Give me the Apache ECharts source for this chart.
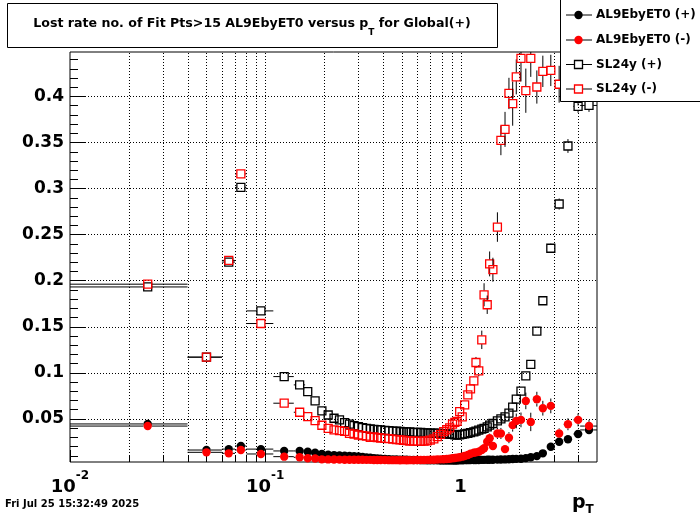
<!DOCTYPE html>
<html>
<head>
<meta charset="utf-8">
<script src="https://cdn.jsdelivr.net/npm/echarts@6/dist/echarts.min.js"></script>
<style>
html,body{margin:0;padding:0;background:#fff;}
#chart{width:700px;height:514px;}
</style>
</head>
<body>
<div id="chart"></div>
<script>
// ---------------- data ----------------
const binCenters = [
  0.025, 0.05, 0.065, 0.075, 0.095, 0.125, 0.15,
  0.165, 0.18, 0.195, 0.21, 0.225, 0.24, 0.255, 0.27, 0.285, 0.30,
  0.315, 0.33, 0.345, 0.36, 0.375, 0.39, 0.41, 0.43, 0.45, 0.47, 0.49, 0.51, 0.53, 0.55,
  0.575, 0.6, 0.625, 0.65, 0.675, 0.7, 0.73, 0.76, 0.79, 0.82, 0.85, 0.88, 0.91, 0.935,
  0.96, 0.99, 1.02, 1.05, 1.09, 1.125, 1.17, 1.2, 1.24, 1.285, 1.32, 1.37, 1.41, 1.465, 1.545,
  1.61, 1.69, 1.77, 1.85, 1.93, 2.04, 2.16, 2.29, 2.46, 2.64, 2.9, 3.2, 3.55, 4.0, 4.55
];
const binHalfWidths = [
  0.015, 0.01, 0.005, 0.005, 0.015, 0.015, 0.01,
  0.0075, 0.0075, 0.0075, 0.0075, 0.0075, 0.0075, 0.0075, 0.0075, 0.0075, 0.0075,
  0.0075, 0.0075, 0.0075, 0.0075, 0.0075, 0.0075, 0.01, 0.01, 0.01, 0.01, 0.01, 0.01, 0.01, 0.01,
  0.0125, 0.0125, 0.0125, 0.0125, 0.0125, 0.0125, 0.015, 0.015, 0.015, 0.015, 0.015, 0.015, 0.015, 0.0125,
  0.015, 0.015, 0.015, 0.02, 0.02, 0.02, 0.02, 0.02, 0.02, 0.02, 0.025, 0.025, 0.025, 0.03, 0.03,
  0.035, 0.04, 0.04, 0.04, 0.05, 0.055, 0.06, 0.07, 0.085, 0.1, 0.13, 0.15, 0.18, 0.22, 0.45
];

// AL9EbyET0 (+)  black filled circles
const al9PlusY = [
  0.0443, 0.016, 0.017, 0.0204, 0.017, 0.015, 0.015,
  0.0142, 0.013, 0.0117, 0.011, 0.0105, 0.0101, 0.0098, 0.0095, 0.0093, 0.009,
  0.0085, 0.008, 0.0076, 0.0072, 0.0069, 0.0066, 0.0063, 0.0061, 0.0059, 0.0058, 0.0056, 0.0055, 0.0054, 0.0053,
  0.0052, 0.0051, 0.005, 0.005, 0.0049, 0.0049, 0.0048, 0.0048, 0.0047, 0.0047, 0.0046, 0.0046, 0.0046, 0.0045,
  0.0047, 0.0048, 0.0049, 0.005, 0.005, 0.0051, 0.0051, 0.0052, 0.0052, 0.0053, 0.0053, 0.0054, 0.0054, 0.0055, 0.0056,
  0.0057, 0.0058, 0.006, 0.0062, 0.0064, 0.0066, 0.0072, 0.0082, 0.0094, 0.0124, 0.0195, 0.025, 0.0277, 0.0334, 0.0378
];
const al9PlusErr = [
  0.002, 0.001, 0.001, 0.001, 0.001, 0.0008, 0.0008,
  0.0005, 0.0005, 0.0005, 0.0005, 0.0005, 0.0005, 0.0005, 0.0005, 0.0005, 0.0005,
  0.0005, 0.0005, 0.0005, 0.0005, 0.0005, 0.0005, 0.0005, 0.0005, 0.0005, 0.0005, 0.0005, 0.0005, 0.0005, 0.0005,
  0.0005, 0.0005, 0.0005, 0.0005, 0.0005, 0.0005, 0.0005, 0.0005, 0.0005, 0.0005, 0.0005, 0.0005, 0.0005, 0.0005,
  0.0005, 0.0005, 0.0005, 0.0005, 0.0005, 0.0005, 0.0005, 0.0005, 0.0005, 0.0005, 0.0005, 0.0005, 0.0005, 0.0005, 0.0006,
  0.0006, 0.0006, 0.0007, 0.0007, 0.0008, 0.0008, 0.001, 0.001, 0.0012, 0.0015, 0.002, 0.0025, 0.003, 0.003, 0.0035
];

// AL9EbyET0 (-)  red filled circles
const al9MinusY = [
  0.042, 0.0135, 0.0124, 0.016, 0.0117, 0.0088, 0.0081,
  0.007, 0.0068, 0.0059, 0.0058, 0.0057, 0.0056, 0.0055, 0.0055, 0.0054, 0.0054,
  0.0054, 0.0053, 0.0053, 0.0052, 0.0052, 0.0051, 0.0051, 0.005, 0.005, 0.005, 0.0049, 0.005, 0.0049, 0.005,
  0.005, 0.0051, 0.0051, 0.0052, 0.0053, 0.0054, 0.0055, 0.0057, 0.0059, 0.006, 0.0063, 0.0066, 0.007, 0.0074,
  0.0078, 0.0082, 0.0088, 0.0095, 0.0106, 0.012, 0.013, 0.0135, 0.0142, 0.016, 0.018, 0.025, 0.0288, 0.0204, 0.034,
  0.034, 0.017, 0.0294, 0.043, 0.0476, 0.0487, 0.0693, 0.0465, 0.0712, 0.0614, 0.0639, 0.034, 0.044, 0.0487, 0.042
];
const al9MinusErr = [
  0.002, 0.001, 0.001, 0.001, 0.001, 0.0008, 0.0008,
  0.0005, 0.0005, 0.0005, 0.0005, 0.0005, 0.0005, 0.0005, 0.0005, 0.0005, 0.0005,
  0.0005, 0.0005, 0.0005, 0.0005, 0.0005, 0.0005, 0.0005, 0.0005, 0.0005, 0.0005, 0.0005, 0.0005, 0.0005, 0.0005,
  0.0005, 0.0005, 0.0005, 0.0005, 0.0005, 0.0005, 0.0005, 0.0005, 0.0005, 0.0006, 0.0006, 0.0007, 0.0008, 0.0008,
  0.001, 0.001, 0.0012, 0.0013, 0.0015, 0.0017, 0.002, 0.002, 0.0022, 0.0025, 0.003, 0.004, 0.005, 0.004, 0.006,
  0.006, 0.004, 0.006, 0.007, 0.008, 0.008, 0.009, 0.01, 0.008, 0.008, 0.008, 0.0055, 0.0065, 0.007, 0.0065
];

// SL24y (+)  black open squares
const sl24PlusY = [
  0.193, 0.1168, 0.220, 0.301, 0.167, 0.0957, 0.0867,
  0.0794, 0.0693, 0.0584, 0.054, 0.0505, 0.0487, 0.0457, 0.044, 0.0425, 0.0414,
  0.0403, 0.0396, 0.0389, 0.0385, 0.0381, 0.0378, 0.0372, 0.037, 0.0366, 0.0364, 0.0361, 0.0358, 0.0356, 0.0357,
  0.0352, 0.035, 0.0351, 0.0347, 0.0346, 0.0344, 0.0342, 0.0343, 0.0339, 0.0337, 0.0334, 0.0332, 0.0329, 0.0326,
  0.0323, 0.0326, 0.033, 0.0335, 0.034, 0.0348, 0.0358, 0.0365, 0.0375, 0.0386, 0.0395, 0.0412, 0.043, 0.0448, 0.0476,
  0.0497, 0.052, 0.056, 0.0625, 0.0712, 0.080, 0.0965, 0.109, 0.145, 0.178, 0.235, 0.283, 0.346, 0.389, 0.39
];
const sl24PlusErr = [
  0.003, 0.002, 0.003, 0.004, 0.004, 0.002, 0.002,
  0.001, 0.001, 0.001, 0.001, 0.001, 0.001, 0.001, 0.001, 0.001, 0.001,
  0.001, 0.001, 0.001, 0.001, 0.001, 0.001, 0.001, 0.001, 0.001, 0.001, 0.001, 0.001, 0.001, 0.001,
  0.001, 0.001, 0.001, 0.001, 0.001, 0.001, 0.001, 0.001, 0.001, 0.001, 0.001, 0.001, 0.001, 0.001,
  0.001, 0.001, 0.001, 0.001, 0.001, 0.001, 0.001, 0.0012, 0.0012, 0.0013, 0.0014, 0.0015, 0.0016, 0.0017, 0.0018,
  0.002, 0.002, 0.002, 0.0022, 0.0025, 0.003, 0.003, 0.0035, 0.004, 0.0045, 0.005, 0.006, 0.0075, 0.007, 0.007
];

// SL24y (-)  red open squares
const sl24MinusY = [
  0.196, 0.1168, 0.2218, 0.3157, 0.1533, 0.0668, 0.057,
  0.0522, 0.0479, 0.0429, 0.0396, 0.0378, 0.037, 0.0362, 0.034, 0.0334, 0.0323,
  0.0316, 0.031, 0.0298, 0.0302, 0.0294, 0.029, 0.0286, 0.0283, 0.0278, 0.0272, 0.027, 0.0266, 0.0262, 0.0258,
  0.0256, 0.0255, 0.0254, 0.0256, 0.026, 0.0268, 0.028, 0.0305, 0.033, 0.036, 0.038, 0.04, 0.044, 0.046,
  0.047, 0.0577, 0.052, 0.065, 0.0758, 0.0823, 0.091, 0.111, 0.102, 0.1356, 0.1845, 0.1737, 0.218, 0.2117, 0.258,
  0.352, 0.364, 0.403, 0.392, 0.421, 0.441, 0.406, 0.441, 0.410, 0.427, 0.428, 0.413, 0.42, 0.41, 0.43
];
const sl24MinusErr = [
  0.003, 0.002, 0.003, 0.004, 0.004, 0.002, 0.002,
  0.001, 0.001, 0.001, 0.001, 0.001, 0.001, 0.001, 0.001, 0.001, 0.001,
  0.001, 0.001, 0.001, 0.001, 0.001, 0.001, 0.001, 0.001, 0.001, 0.001, 0.001, 0.001, 0.001, 0.001,
  0.001, 0.001, 0.001, 0.001, 0.001, 0.001, 0.001, 0.0012, 0.0013, 0.0015, 0.0016, 0.0018, 0.002, 0.002,
  0.002, 0.003, 0.003, 0.003, 0.004, 0.004, 0.005, 0.006, 0.006, 0.01, 0.0125, 0.01, 0.0135, 0.013, 0.016,
  0.016, 0.019, 0.017, 0.024, 0.019, 0.025, 0.024, 0.02, 0.018, 0.017, 0.017, 0.02, 0.02, 0.02, 0.02
];

// axis ticks
const xMajorTicks = [0.01, 0.1, 1];
const xMinorTicks = [0.02, 0.03, 0.04, 0.05, 0.06, 0.07, 0.08, 0.09,
                     0.2, 0.3, 0.4, 0.5, 0.6, 0.7, 0.8, 0.9, 2, 3, 4];
const yMajorTicks = [0.05, 0.1, 0.15, 0.2, 0.25, 0.3, 0.35, 0.4];
const yMinorTicks = [0.01, 0.02, 0.03, 0.04, 0.06, 0.07, 0.08, 0.09, 0.11, 0.12, 0.13, 0.14,
                     0.16, 0.17, 0.18, 0.19, 0.21, 0.22, 0.23, 0.24, 0.26, 0.27, 0.28, 0.29,
                     0.31, 0.32, 0.33, 0.34, 0.36, 0.37, 0.38, 0.39, 0.41, 0.42, 0.43, 0.44];

const titleText = '{m|Lost rate no. of Fit Pts>15 AL9EbyET0 versus p}{s|T}{m| for Global(+)}';
const legendNames = ['AL9EbyET0 (+)', 'AL9EbyET0 (-)', 'SL24y (+)', 'SL24y (-)'];
const dateText = 'Fri Jul 25 15:32:49 2025';
const axisTitleText = '{m|p}{s|T}';

// ---------------- chart ----------------
const X_MIN = 0.01, X_MAX = 5, Y_MIN = 0.003, Y_MAX = 0.448;
const FONT = 'DejaVu Sans';
const TOPZ = 100;
const chart = echarts.init(document.getElementById('chart'));

function dataSeries(name, ys, errs, shape, color, z) {
  const data = binCenters.map((x, i) => [x, ys[i], binHalfWidths[i], errs[i]]);
  return {
    name: name,
    type: 'custom',
    coordinateSystem: 'cartesian2d',
    clip: false,
    silent: true,
    z: z,
    encode: { x: 0, y: 1 },
    data: data,
    renderItem: function (params, api) {
      const x = api.value(0), y = api.value(1), xe = api.value(2), ye = api.value(3);
      const c = api.coord([x, y]);
      const xl = api.coord([Math.max(x - xe, X_MIN), y])[0];
      const xr = api.coord([Math.min(x + xe, X_MAX), y])[0];
      const yl = api.coord([x, Math.max(y - ye, Y_MIN)])[1];
      const yh = api.coord([x, Math.min(y + ye, Y_MAX)])[1];
      const h = 4.2;
      const ls = { stroke: '#000', lineWidth: 1 };
      const ch = [];
      if (xl < c[0] - h) ch.push({ type: 'line', shape: { x1: xl, y1: c[1], x2: c[0] - h, y2: c[1] }, style: ls });
      if (xr > c[0] + h) ch.push({ type: 'line', shape: { x1: c[0] + h, y1: c[1], x2: xr, y2: c[1] }, style: ls });
      if (yl > c[1] + h) ch.push({ type: 'line', shape: { x1: c[0], y1: c[1] + h, x2: c[0], y2: yl }, style: ls });
      if (yh < c[1] - h) ch.push({ type: 'line', shape: { x1: c[0], y1: yh, x2: c[0], y2: c[1] - h }, style: ls });
      if (shape === 'circle') {
        ch.push({ type: 'circle', shape: { cx: c[0], cy: c[1], r: 4.2 }, style: { fill: color } });
      } else {
        ch.push({ type: 'rect', shape: { x: c[0] - 4, y: c[1] - 4, width: 8, height: 8 },
                  style: { fill: null, stroke: color, lineWidth: 1.3 } });
      }
      return { type: 'group', children: ch };
    }
  };
}

const xDecorData = xMajorTicks.map(v => [v, Y_MIN, 1]).concat(xMinorTicks.map(v => [v, Y_MIN, 0]));
const yDecorData = yMajorTicks.map(v => [X_MIN, v, 1]).concat(yMinorTicks.map(v => [X_MIN, v, 0]));
const dotted = { stroke: '#000', lineWidth: 1, lineDash: [1, 2] };

const xDecor = {
  type: 'custom', silent: true, clip: false, encode: { x: 0, y: 1 }, data: xDecorData, z: 1,
  renderItem: function (params, api) {
    const v = api.value(0), major = api.value(2) === 1;
    const p0 = api.coord([v, Y_MIN]), p1 = api.coord([v, Y_MAX]);
    const px = Math.round(p0[0]) + 0.5;
    const ch = [];
    if (v > X_MIN * 1.0001) ch.push({ type: 'line', shape: { x1: px, y1: p0[1], x2: px, y2: p1[1] }, style: dotted });
    ch.push({ type: 'line', shape: { x1: px, y1: p0[1], x2: px, y2: p0[1] - (major ? 12 : 6) },
              style: { stroke: '#000', lineWidth: 1 } });
    return { type: 'group', children: ch };
  }
};
const yDecor = {
  type: 'custom', silent: true, clip: false, encode: { x: 0, y: 1 }, data: yDecorData, z: 1,
  renderItem: function (params, api) {
    const v = api.value(1), major = api.value(2) === 1;
    const p0 = api.coord([X_MIN, v]), p1 = api.coord([X_MAX, v]);
    const py = Math.round(p0[1]) + 0.5;
    const ch = [];
    if (major) ch.push({ type: 'line', shape: { x1: p0[0], y1: py, x2: p1[0], y2: py }, style: dotted });
    ch.push({ type: 'line', shape: { x1: p0[0], y1: py, x2: p0[0] + (major ? 16 : 8), y2: py },
              style: { stroke: '#000', lineWidth: 1 } });
    return { type: 'group', children: ch };
  }
};

// legend (ROOT-style box) built as graphic elements
const legendRowsY = [15, 40, 64.5, 89];
const legendStyles = [
  { shape: 'circle', color: '#000' },
  { shape: 'circle', color: '#ff0000' },
  { shape: 'square', color: '#000' },
  { shape: 'square', color: '#ff0000' }
];
const graphics = [];
graphics.push({ type: 'rect', z: TOPZ, shape: { x: 560.5, y: -1, width: 141, height: 102.5 },
                style: { fill: '#fff', stroke: '#000', lineWidth: 1 } });
legendNames.forEach((name, i) => {
  const y = legendRowsY[i], st = legendStyles[i], mx = 578.5;
  const lstyle = { stroke: '#000', lineWidth: 1 };
  if (st.shape === 'circle') {
    graphics.push({ type: 'line', z: TOPZ + 1, shape: { x1: 566, y1: y, x2: 592, y2: y }, style: lstyle });
    graphics.push({ type: 'circle', z: TOPZ + 2, shape: { cx: mx, cy: y, r: 4.2 }, style: { fill: st.color } });
  } else {
    graphics.push({ type: 'line', z: TOPZ + 1, shape: { x1: 566, y1: y, x2: mx - 4, y2: y }, style: lstyle });
    graphics.push({ type: 'line', z: TOPZ + 1, shape: { x1: mx + 4, y1: y, x2: 592, y2: y }, style: lstyle });
    graphics.push({ type: 'rect', z: TOPZ + 2, shape: { x: mx - 4, y: y - 4, width: 8, height: 8 },
                    style: { fill: null, stroke: st.color, lineWidth: 1.3 } });
  }
  graphics.push({ type: 'text', z: TOPZ + 2, x: 596, y: y,
    style: { text: name, fontFamily: FONT, fontWeight: 'bold', fontSize: 12, fill: '#000',
             align: 'left', verticalAlign: 'middle', textAlign: 'left', textVerticalAlign: 'middle' } });
});
// title box
graphics.push({ type: 'rect', z: TOPZ, shape: { x: 7.5, y: 3.5, width: 490, height: 44 },
                style: { fill: '#fff', stroke: '#000', lineWidth: 1 } });
graphics.push({ type: 'text', z: TOPZ + 1, x: 252, y: 27,
  style: { text: titleText, fill: '#000',
           align: 'center', verticalAlign: 'middle', textAlign: 'center', textVerticalAlign: 'middle',
           rich: {
             m: { fontFamily: FONT, fontWeight: 'bold', fontSize: 12.6, lineHeight: 20, verticalAlign: 'top', fill: '#000' },
             s: { fontFamily: FONT, fontWeight: 'bold', fontSize: 9, lineHeight: 9, verticalAlign: 'bottom', fill: '#000' }
           } } });
// date
graphics.push({ type: 'text', z: TOPZ + 1, x: 5, y: 504,
  style: { text: dateText, fontFamily: FONT, fontWeight: 'bold', fontSize: 10, fill: '#000',
           align: 'left', verticalAlign: 'middle', textAlign: 'left', textVerticalAlign: 'middle' } });
// x axis title
graphics.push({ type: 'text', z: TOPZ + 1, x: 572, y: 503,
  style: { text: axisTitleText, fill: '#000',
           align: 'left', verticalAlign: 'middle', textAlign: 'left', textVerticalAlign: 'middle',
           rich: {
             m: { fontFamily: FONT, fontWeight: 'bold', fontSize: 19, lineHeight: 26, fill: '#000' },
             s: { fontFamily: FONT, fontWeight: 'bold', fontSize: 12, lineHeight: 12, verticalAlign: 'bottom', fill: '#000' }
           } } });

const option = {
  animation: false,
  backgroundColor: '#fff',
  grid: { left: 70, right: 103, top: 52, bottom: 52, show: true, borderColor: '#000', borderWidth: 1, backgroundColor: '#fff' },
  xAxis: {
    type: 'log', logBase: 10, min: X_MIN, max: X_MAX,
    axisLine: { show: false }, axisTick: { show: false }, splitLine: { show: false }, minorTick: { show: false },
    axisLabel: {
      margin: 8,
      formatter: function (v) {
        const l = Math.log10(v), e = Math.round(l);
        if (Math.abs(l - e) > 1e-6) return '';
        if (e === 0) return '{b|1}';
        return '{b|10}{s|' + e + '}';
      },
      rich: {
        b: { fontFamily: FONT, fontWeight: 'bold', fontSize: 18, lineHeight: 26, color: '#000', verticalAlign: 'bottom' },
        s: { fontFamily: FONT, fontWeight: 'bold', fontSize: 12, lineHeight: 12, color: '#000', verticalAlign: 'top' }
      }
    }
  },
  yAxis: {
    type: 'value', min: Y_MIN, max: Y_MAX,
    axisLine: { show: false }, axisTick: { show: false }, splitLine: { show: false },
    axisLabel: { customValues: yMajorTicks, margin: 6, fontFamily: FONT, fontWeight: 'bold', fontSize: 17, color: '#000',
                 formatter: v => String(Math.round(v * 100) / 100) }
  },
  graphic: { elements: graphics },
  series: [
    xDecor,
    yDecor,
    dataSeries('SL24y (+)', sl24PlusY, sl24PlusErr, 'square', '#000', 2),
    dataSeries('SL24y (-)', sl24MinusY, sl24MinusErr, 'square', '#ff0000', 3),
    dataSeries('AL9EbyET0 (+)', al9PlusY, al9PlusErr, 'circle', '#000', 4),
    dataSeries('AL9EbyET0 (-)', al9MinusY, al9MinusErr, 'circle', '#ff0000', 5)
  ]
};
chart.setOption(option);
</script>
</body>
</html>
